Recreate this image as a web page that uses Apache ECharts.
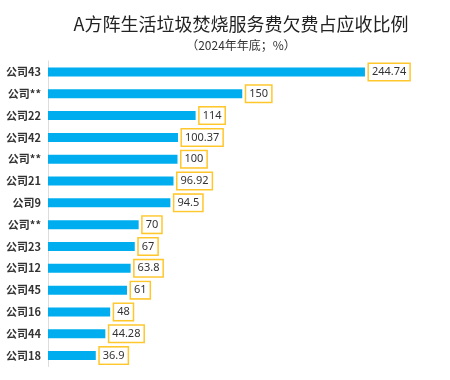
<!DOCTYPE html>
<html><head><meta charset="utf-8">
<script src="https://cdn.jsdelivr.net/npm/echarts@6/dist/echarts.min.js"></script>
<style>html,body{margin:0;padding:0;background:#fff}#c{width:450px;height:380px}</style>
</head><body><div id="c"></div>
<script>
const categories = ['公司43','公司**','公司22','公司42','公司**','公司21','公司9','公司**','公司23','公司12','公司45','公司16','公司44','公司18'];
const values = [244.74,150,114,100.37,100,96.92,94.5,70,67,63.8,61,48,44.28,36.9];
const titleText = 'A方阵生活垃圾焚烧服务费欠费占应收比例';
const subtitleText = '（2024年年底；%）';

const chart = echarts.init(document.getElementById('c'));
chart.setOption({
  animation: false,
  backgroundColor: '#fff',
  title: {
    text: titleText,
    subtext: subtitleText,
    left: 236, textAlign: 'center', top: 10, itemGap: 6,
    textStyle: {fontSize: 18, fontWeight: 'normal', color: '#222', fontFamily: 'Noto Sans CJK SC'},
    subtextStyle: {fontSize: 12, color: '#333', fontFamily: 'Noto Sans CJK SC'}
  },
  grid: {left: 48, top: 61, width: 388.5, height: 305.5, containLabel: false},
  xAxis: {type: 'value', min: 0, max: 300, show: false},
  yAxis: {
    type: 'category', data: categories, inverse: true,
    axisLine: {show: true, lineStyle: {color: '#ddd', width: 1}},
    axisTick: {show: false},
    axisLabel: {fontSize: 11, fontWeight: 'bold', color: '#333', margin: 7, fontFamily: 'Noto Sans CJK SC'}
  },
  series: [{
    type: 'bar', data: values, barWidth: 9,
    itemStyle: {color: '#00AEEF'},
    label: {
      show: true, position: 'right', distance: 4,
      color: '#333', fontSize: 11, fontFamily: 'Noto Sans',
      backgroundColor: '#fff', borderColor: '#FFC72C', borderWidth: 1.5,
      padding: [3, 3, 2, 3]
    }
  }]
});
</script></body></html>
